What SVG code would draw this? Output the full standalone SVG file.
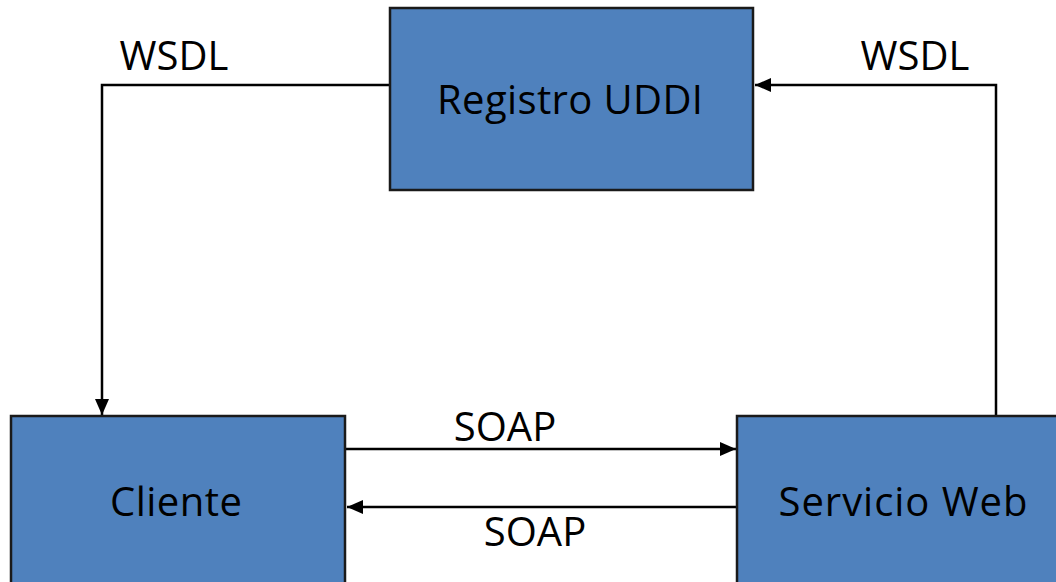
<svg xmlns="http://www.w3.org/2000/svg" width="1056" height="582" viewBox="0 0 1056 582">
  <style>
    .box { fill: #4F81BD; stroke: #1a1a1a; stroke-width: 2.5; }
    .lbl { font-family: "Open Sans", "Noto Sans", sans-serif; font-size: 40px; fill: #000; text-anchor: middle; }
    .wire { fill: none; stroke: #000; stroke-width: 2.5; }
  </style>
  <defs>
    <marker id="head" viewBox="0 0 16 14" refX="16" refY="7" markerWidth="16" markerHeight="14" markerUnits="userSpaceOnUse" orient="auto">
      <path d="M0,0 L16,7 L0,14 z" fill="#000"/>
    </marker>
  </defs>

  <rect width="1056" height="582" fill="#fff"/>

  <g id="connectors">
    <path class="wire" d="M390,85 H102 V415" marker-end="url(#head)"/>
    <path class="wire" d="M996,416 V85 H755" marker-end="url(#head)"/>
    <path class="wire" d="M346,449 H736" marker-end="url(#head)"/>
    <path class="wire" d="M737,507 H347" marker-end="url(#head)"/>
    <text class="lbl" x="174" y="70">WSDL</text>
    <text class="lbl" x="915" y="70">WSDL</text>
    <text class="lbl" x="505" y="441">SOAP</text>
    <text class="lbl" x="535" y="546">SOAP</text>
  </g>

  <g id="registro-uddi">
    <rect class="box" x="390" y="8" width="363" height="182"/>
    <text class="lbl" x="570" y="114" textLength="266">Registro UDDI</text>
  </g>

  <g id="cliente">
    <rect class="box" x="11" y="416" width="334" height="180"/>
    <text class="lbl" x="176" y="516" textLength="132">Cliente</text>
  </g>

  <g id="servicio-web">
    <rect class="box" x="737" y="416" width="340" height="180"/>
    <text class="lbl" x="903" y="516" textLength="249">Servicio Web</text>
  </g>
</svg>
